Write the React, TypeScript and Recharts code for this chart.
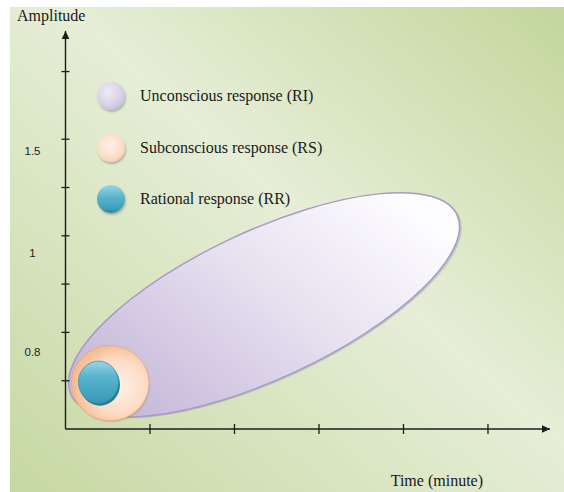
import { Legend, ReferenceDot, Scatter, ScatterChart, XAxis, YAxis } from "recharts";

// axis ticks (in tick units) and the odd amplitude labels printed between them
const xTicks = [1, 2, 3, 4, 5];
const yTicks = [1, 2, 3, 4, 5, 6, 7.4];
const yLabelPos = [1.6, 3.64, 5.76];
const yLabelText = ["0.8", "1", "1.5"];

// response regions: centre (time, amplitude) and half-spread along each axis
const seriesNames = [
  "Unconscious response (RI)",
  "Subconscious response (RS)",
  "Rational response (RR)",
];
const centerX = [2.35, 0.53, 0.39];
const centerY = [2.57, 0.95, 0.97];
const spreadX = [2.52, 0.46, 0.237];
const spreadY = [1.53, 0.78, 0.435];

const X_MAX = 5.734;
const Y_MAX = 8.24;

const W = 564;
const H = 492;
const MARGIN = { top: 31, right: 14, bottom: 0, left: 0 };
const Y_AXIS_W = 65.5;
const X_AXIS_H = 63;
// pixels per axis unit, same as the linear scales recharts builds
const PX_X = (W - MARGIN.left - MARGIN.right - Y_AXIS_W) / X_MAX;
const PX_Y = (H - MARGIN.top - MARGIN.bottom - X_AXIS_H) / Y_MAX;

const INK = "#1c1c1c";
const SERIF = "'Liberation Serif', 'Times New Roman', serif";
const tilt = [-25, 0, 0];

const swatch: Record<string, string> = {
  [seriesNames[0]]:
    "radial-gradient(circle at 40% 35%, #eeebf4 0%, #d8d0e6 55%, #b4a8cc 100%)",
  [seriesNames[1]]:
    "radial-gradient(circle at 45% 40%, #fff2ea 0%, #fcdbc3 60%, #f0b289 100%)",
  [seriesNames[2]]:
    "linear-gradient(to bottom, #9ad6e6 0%, #56b3cc 45%, #3d9fbc 85%, #2b7f98 100%)",
};

function regionShape(i: number) {
  return (props: any) => {
    const { cx, cy, payload } = props;
    const rx = payload.sx * PX_X;
    const ry = payload.sy * PX_Y;
    if (i === 0) {
      return (
        <g transform={`rotate(${tilt[0]} ${cx} ${cy})`}>
          <defs>
            <linearGradient
              id="riFill"
              gradientUnits="userSpaceOnUse"
              x1={cx + rx * 0.7}
              y1={cy - ry}
              x2={cx - rx * 0.7}
              y2={cy + ry}
            >
              <stop offset="0" stopColor="#fdfcff" />
              <stop offset="0.45" stopColor="#e7e1f0" />
              <stop offset="1" stopColor="#c6b9da" />
            </linearGradient>
          </defs>
          <ellipse cx={cx + 1.5} cy={cy + 2} rx={rx} ry={ry} fill="rgba(90,80,120,0.22)" />
          <ellipse cx={cx} cy={cy} rx={rx} ry={ry} fill="url(#riFill)" stroke="#a89ac6" strokeWidth={1.5} />
        </g>
      );
    }
    if (i === 1) {
      return (
        <g>
          <defs>
            <radialGradient id="rsFill" cx="0.6" cy="0.55" r="0.6">
              <stop offset="0" stopColor="#fef1e8" />
              <stop offset="0.6" stopColor="#fcdcc5" />
              <stop offset="1" stopColor="#f4b88e" />
            </radialGradient>
          </defs>
          <ellipse cx={cx + 1} cy={cy + 1.5} rx={rx} ry={ry} fill="rgba(150,100,70,0.2)" />
          <ellipse cx={cx} cy={cy} rx={rx} ry={ry} fill="url(#rsFill)" stroke="#efab82" strokeWidth={1} />
        </g>
      );
    }
    return (
      <g>
        <defs>
          <linearGradient id="rrFill" x1="0" y1="0" x2="0" y2="1">
            <stop offset="0" stopColor="#9bd5e5" />
            <stop offset="0.35" stopColor="#5ab6ce" />
            <stop offset="0.7" stopColor="#46a6c2" />
            <stop offset="1" stopColor="#3a97b3" />
          </linearGradient>
        </defs>
        <ellipse cx={cx + 1.5} cy={cy + 2.5} rx={rx} ry={ry} fill="#2a7a92" />
        <ellipse cx={cx} cy={cy} rx={rx} ry={ry} fill="url(#rrFill)" stroke="#3d93ad" strokeWidth={0.8} />
      </g>
    );
  };
}

function XTick({ x, y }: any) {
  return <line x1={x} x2={x} y1={y - 5} y2={y + 5} stroke={INK} strokeWidth={1.3} />;
}

function YTick({ x, y, payload }: any) {
  const li = yLabelPos.indexOf(payload.value);
  if (li >= 0) {
    return (
      <text x={x - 33} y={y + 4} textAnchor="middle" fontSize={11.5} fill="#222"
        fontFamily="'Liberation Sans', Arial, sans-serif">
        {yLabelText[li]}
      </text>
    );
  }
  return <line x1={x - 4} x2={x + 4} y1={y} y2={y} stroke={INK} strokeWidth={1.3} />;
}

function LegendBox({ payload }: any) {
  const items = [...(payload || [])].sort(
    (a: any, b: any) => seriesNames.indexOf(a.value) - seriesNames.indexOf(b.value),
  );
  return (
    <div>
      {items.map((it: any) => (
        <div key={it.value} style={{ display: "flex", alignItems: "center", height: 51.75 }}>
          <div
            style={{
              width: 28,
              height: 28,
              borderRadius: "50%",
              background: swatch[it.value],
              boxShadow: "1px 2px 2px rgba(0,0,0,0.22)",
              marginRight: 15,
            }}
          />
          <span style={{ fontFamily: SERIF, fontSize: 16, color: "#1a1a1a", whiteSpace: "nowrap" }}>
            {it.value}
          </span>
        </div>
      ))}
    </div>
  );
}

export default function App() {
  return (
    <div style={{ position: "absolute", left: 0, top: 0, width: W, height: H, background: "#fff" }}>
      <div
        style={{
          position: "absolute",
          left: 10,
          top: 7,
          right: 0,
          bottom: 0,
          background: "linear-gradient(to bottom left, #c3d69c 0%, #e6eed7 45%, #c6d8a3 100%)",
        }}
      />
      <div style={{ position: "absolute", left: 0, top: 0 }}>
        <ScatterChart width={W} height={H} margin={MARGIN}>
          <XAxis
            type="number"
            dataKey="x"
            domain={[0, X_MAX]}
            ticks={xTicks}
            interval={0}
            allowDataOverflow
            height={X_AXIS_H}
            axisLine={{ stroke: INK, strokeWidth: 1.4 }}
            tickLine={false}
            tickSize={0}
            tickMargin={0}
            tick={<XTick />}
            label={(p: any) => (
              <text x={p.viewBox.x + p.viewBox.width - 67} y={p.viewBox.y + 57} textAnchor="end"
                fontFamily={SERIF} fontSize={16} fill="#1a1a1a">
                Time (minute)
              </text>
            )}
          />
          <YAxis
            type="number"
            dataKey="y"
            domain={[0, Y_MAX]}
            ticks={[...yTicks, ...yLabelPos]}
            interval={0}
            allowDataOverflow
            width={Y_AXIS_W}
            axisLine={{ stroke: INK, strokeWidth: 1.4 }}
            tickLine={false}
            tickSize={0}
            tickMargin={0}
            tick={<YTick />}
            label={(p: any) => (
              <text x={p.viewBox.x + 17} y={p.viewBox.y - 10} fontFamily={SERIF} fontSize={16} fill="#1a1a1a">
                Amplitude
              </text>
            )}
          />
          {seriesNames.map((name, i) => (
            <Scatter
              key={name}
              name={name}
              legendType="circle"
              fill={["#cfc5e0", "#f8c9a6", "#4aabc6"][i]}
              data={[{ x: centerX[i], y: centerY[i], sx: spreadX[i], sy: spreadY[i] }]}
              shape={regionShape(i)}
              isAnimationActive={false}
            />
          ))}
          <ReferenceDot
            x={0}
            y={Y_MAX}
            r={0}
            ifOverflow="visible"
            shape={(p: any) => <path d={`M${p.cx},${p.cy} l-3.8,8 l7.6,0 z`} fill={INK} />}
          />
          <ReferenceDot
            x={X_MAX}
            y={0}
            r={0}
            ifOverflow="visible"
            shape={(p: any) => <path d={`M${p.cx},${p.cy} l-8,-3.8 l0,7.6 z`} fill={INK} />}
          />
          <Legend
            layout="vertical"
            align="center"
            verticalAlign="middle"
            wrapperStyle={{ left: 97, top: 70, width: 260 }}
            content={<LegendBox />}
          />
        </ScatterChart>
      </div>
    </div>
  );
}
